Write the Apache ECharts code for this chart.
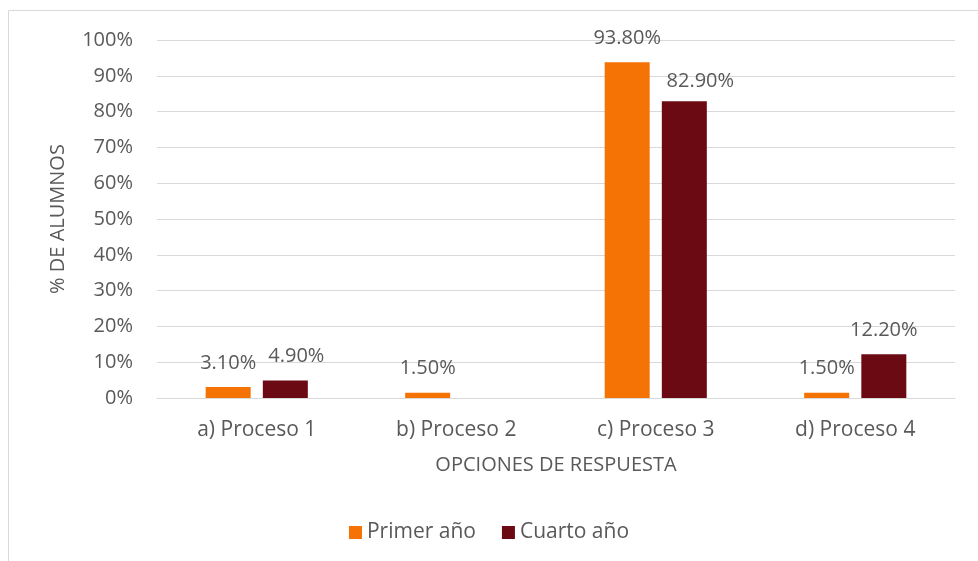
<!DOCTYPE html>
<html><head><meta charset="utf-8">
<script src="https://cdn.jsdelivr.net/npm/echarts@6/dist/echarts.min.js"></script>
<style>html,body{margin:0;padding:0;background:#fff}#c{width:978px;height:561px}</style>
</head><body><div id="c"></div>
<script>
const categories = ['a) Proceso 1', 'b) Proceso 2', 'c) Proceso 3', 'd) Proceso 4'];
const primerAno = [3.1, 1.5, 93.8, 1.5];
const cuartoAno = [4.9, null, 82.9, 12.2];
const yTicks = [0, 10, 20, 30, 40, 50, 60, 70, 80, 90, 100];

const FONT = 'Open Sans';
const TXT = '#595959';
const chart = echarts.init(document.getElementById('c'));
const lbl = {
  show: true, position: 'top', distance: 14,
  color: TXT, fontFamily: FONT, fontSize: 20,
  formatter: p => p.value == null ? '' : p.value.toFixed(2) + '%'
};
// label nudges (Excel moved some labels to avoid overlaps)
const cuartoData = cuartoAno.map((v, i) => {
  if (i === 0) return { value: v, label: { offset: [11, 0] } };
  if (i === 2) return { value: v, label: { offset: [16, 0], distance: 10 } };
  return v;
});
chart.setOption({
  animation: false,
  graphic: [{ type: 'rect', shape: { x: 8.5, y: 10.5, width: 1000, height: 600 },
    style: { fill: 'none', stroke: '#d9d9d9', lineWidth: 1 }, silent: true }],
  grid: { left: 157, right: 23, top: 40, bottom: 163 },
  legend: {
    top: 517, left: 'center', itemWidth: 13, itemHeight: 13, itemGap: 26,
    icon: 'rect',
    textStyle: { color: TXT, fontFamily: FONT, fontSize: 21 },
    data: ['Primer año', 'Cuarto año']
  },
  xAxis: {
    type: 'category', data: categories,
    name: 'OPCIONES DE RESPUESTA', nameLocation: 'middle', nameGap: 57,
    nameTextStyle: { color: TXT, fontFamily: FONT, fontSize: 20 },
    axisLine: { lineStyle: { color: '#d9d9d9' } },
    axisTick: { show: false },
    axisLabel: { color: TXT, fontFamily: FONT, fontSize: 21, margin: 22 }
  },
  yAxis: {
    type: 'value', min: yTicks[0], max: yTicks[yTicks.length - 1], interval: 10,
    name: '% DE ALUMNOS', nameLocation: 'middle', nameGap: 89,
    nameTextStyle: { color: TXT, fontFamily: FONT, fontSize: 20 },
    axisLine: { show: false }, axisTick: { show: false },
    splitLine: { lineStyle: { color: '#d9d9d9' } },
    axisLabel: { color: TXT, fontFamily: FONT, fontSize: 20, margin: 24, formatter: '{value}%' }
  },
  series: [
    { name: 'Primer año', type: 'bar', data: primerAno, barWidth: 45, barGap: '27%',
      itemStyle: { color: '#F57205' }, label: lbl },
    { name: 'Cuarto año', type: 'bar', data: cuartoData, barWidth: 45,
      itemStyle: { color: '#6B0A13' }, label: lbl }
  ]
});
</script></body></html>
